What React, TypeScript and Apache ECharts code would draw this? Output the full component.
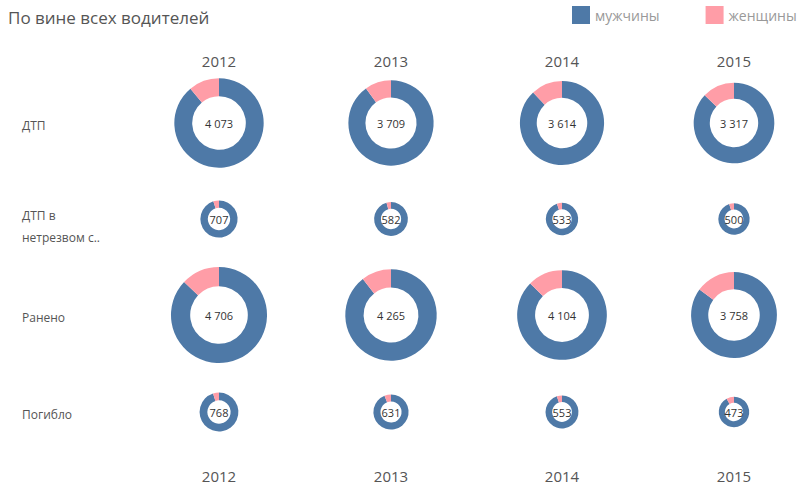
import React, { useEffect, useRef } from "react";
import * as echarts from "echarts";

const years = ["2012", "2013", "2014", "2015"];
const rowNames = ["ДТП", "ДТП в\nнетрезвом с..", "Ранено", "Погибло"];
const seriesNames = ["мужчины", "женщины"];

// totals per row (each row: 2012..2015)
const totalDtp = [4073, 3709, 3614, 3317];
const totalDrunk = [707, 582, 533, 500];
const totalInjured = [4706, 4265, 4104, 3758];
const totalKilled = [768, 631, 553, 473];

// women (estimated from the pink slices)
const womenDtp = [450, 370, 435, 430];
const womenDrunk = [35, 25, 27, 25];
const womenInjured = [610, 450, 515, 560];
const womenKilled = [38, 38, 28, 38];

const totals = [totalDtp, totalDrunk, totalInjured, totalKilled];
const women = [womenDtp, womenDrunk, womenInjured, womenKilled];

const BLUE = "#4E79A7";
const PINK = "#FF9DA7";
const FONT = "'Open Sans', 'Noto Sans', sans-serif";

const colX = [219, 391, 562, 734];
const rowY = [123, 219, 315, 412];
const K = 0.7; // px per sqrt(value)
const INNER = 0.6;

function fmt(n: number): string {
  const s = String(n);
  return s.length > 3 ? s.slice(0, s.length - 3) + " " + s.slice(s.length - 3) : s;
}

export default function App() {
  const ref = useRef<HTMLDivElement>(null);
  useEffect(() => {
    if (!ref.current) return;
    const chart = echarts.init(ref.current, undefined, { renderer: "svg" });
    const series: any[] = [];
    totals.forEach((row, ri) => {
      row.forEach((tot, ci) => {
        const w = women[ri][ci];
        const m = tot - w;
        const r = K * Math.sqrt(tot);
        series.push({
          type: "pie",
          center: [colX[ci], rowY[ri]],
          radius: [r * INNER, r],
          startAngle: 90,
          clockwise: true,
          silent: true,
          avoidLabelOverlap: false,
          labelLine: { show: false },
          emphasis: { disabled: true },
          data: [
            {
              name: seriesNames[0],
              value: m,
              itemStyle: { color: BLUE },
              label: {
                show: true,
                position: "center",
                formatter: fmt(tot),
                fontSize: 11,
                color: "#333",
                fontFamily: FONT,
              },
            },
            {
              name: seriesNames[1],
              value: w,
              itemStyle: { color: PINK },
              label: { show: false },
            },
          ],
        });
      });
    });

    const graphics: any[] = [
      {
        type: "text",
        left: 8,
        top: 9,
        style: { text: "По вине всех водителей", fontSize: 17, fill: "#555", fontFamily: FONT },
      },
    ];
    years.forEach((y, i) => {
      graphics.push({
        type: "text",
        x: colX[i],
        y: 61,
        style: { text: y, fontSize: 15, fill: "#555", fontFamily: FONT, align: "center", verticalAlign: "middle" },
      });
      graphics.push({
        type: "text",
        x: colX[i],
        y: 476,
        style: { text: y, fontSize: 15, fill: "#555", fontFamily: FONT, align: "center", verticalAlign: "middle" },
      });
    });
    rowNames.forEach((n, i) => {
      graphics.push({
        type: "text",
        x: 22,
        y: i === 1 ? 226 : rowY[i] + 2,
        style: {
          text: n,
          fontSize: 12,
          lineHeight: 22,
          fill: "#555",
          fontFamily: FONT,
          align: "left",
          verticalAlign: "middle",
        },
      });
    });

    chart.setOption({
      animation: false,
      backgroundColor: "#fff",
      legend: {
        data: seriesNames,
        left: 567,
        top: 1,
        icon: "rect",
        itemWidth: 18,
        itemHeight: 18,
        itemGap: 46,
        selectedMode: false,
        textStyle: { color: "#999", fontSize: 14, fontFamily: FONT },
      },
      graphic: graphics,
      series,
    });
    return () => chart.dispose();
  }, []);
  return (
    <div
      ref={ref}
      style={{ position: "fixed", left: 0, top: 0, width: 805, height: 486, background: "#fff" }}
    />
  );
}
